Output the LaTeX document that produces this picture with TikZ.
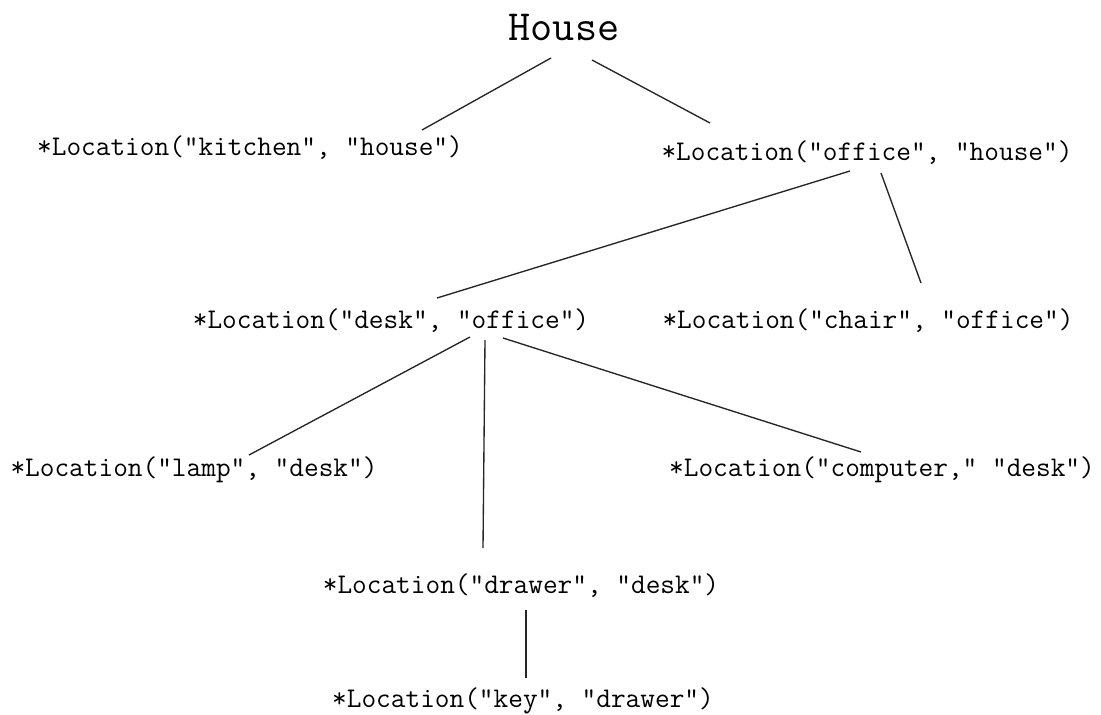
\documentclass[tikz,border=0pt]{standalone}
\begin{document}
\begin{tikzpicture}[x=1pt,y=-1pt,
  loc/.style={inner sep=0pt,font=\fontsize{28.5}{32}\selectfont\ttfamily},
  root/.style={inner sep=0pt,font=\fontsize{43}{47}\selectfont\ttfamily},
  edge/.style={line width=1.35pt,black!85}]
\useasboundingbox[fill=white] (0,0) rectangle (1101,715);
\node[root] (house) at (564,27) {House};
\node[loc] (kitchen) at (250,148) {*Location("kitchen", "house")};
\node[loc] (office) at (867,153) {*Location("office", "house")};
\node[loc] (desk) at (391,321) {*Location("desk", "office")};
\node[loc] (chair) at (868,321) {*Location("chair", "office")};
\node[loc] (lamp) at (194,470) {*Location("lamp", "desk")};
\node[loc] (computer) at (882,470) {*Location("computer," "desk")};
\node[loc] (drawer) at (521,586) {*Location("drawer", "desk")};
\node[loc] (key) at (523,701) {*Location("key", "drawer")};
\draw[edge] ([shift={(-13,31)}]house.center) -- ([shift={(172,-18)}]kitchen.center);
\draw[edge] ([shift={(28,33)}]house.center) -- ([shift={(-157,-30)}]office.center);
\draw[edge] ([shift={(-17,18)}]office.center) -- ([shift={(46,-23)}]desk.center);
\draw[edge] ([shift={(14,20)}]office.center) -- ([shift={(53,-38)}]chair.center);
\draw[edge] ([shift={(79,16)}]desk.center) -- ([shift={(55,-15)}]lamp.center);
\draw[edge] ([shift={(94,19)}]desk.center) -- ([shift={(-38,-38)}]drawer.center);
\draw[edge] ([shift={(112,17)}]desk.center) -- ([shift={(-21,-18)}]computer.center);
\draw[edge] ([shift={(5,24)}]drawer.center) -- ([shift={(3,-23)}]key.center);
\end{tikzpicture}
\end{document}
